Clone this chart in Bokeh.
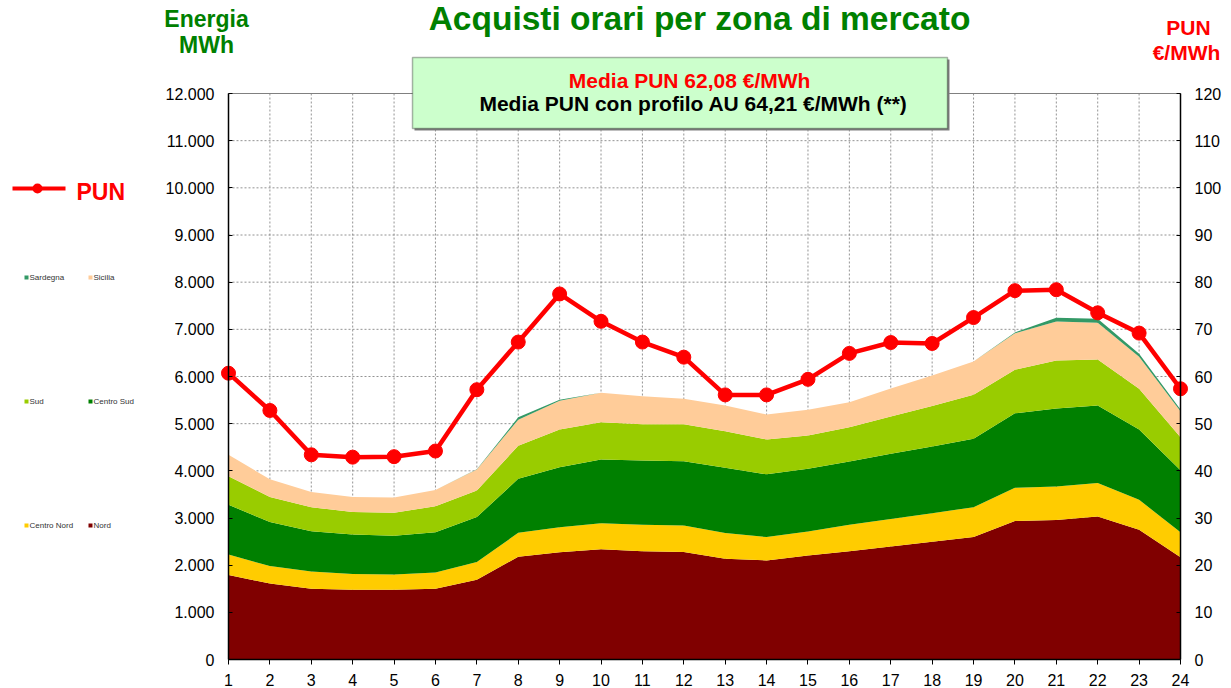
from bokeh.plotting import figure
from bokeh.models import ColumnDataSource, Range1d, LinearAxis, FixedTicker, Label, BoxAnnotation
from bokeh.embed import file_html
from bokeh.resources import INLINE

# ---------------- data ----------------
hours = list(range(1, 25))
nord = [1790, 1610, 1500, 1480, 1480, 1500, 1690, 2180, 2275, 2335, 2295, 2280,
        2135, 2100, 2205, 2295, 2395, 2495, 2595, 2935, 2960, 3030, 2750, 2170]
centro_nord = [435, 370, 365, 335, 320, 345, 375, 505, 530, 555, 560, 560,
               545, 495, 510, 560, 585, 605, 635, 705, 710, 710, 635, 530]
centro_sud = [1055, 935, 855, 835, 825, 855, 955, 1145, 1270, 1350, 1365, 1365,
              1385, 1330, 1330, 1345, 1380, 1415, 1450, 1580, 1650, 1645, 1490, 1310]
sud = [605, 530, 510, 475, 485, 550, 565, 700, 800, 790, 765, 780,
       775, 740, 705, 725, 790, 860, 935, 925, 1020, 975, 865, 700]
sicilia = [455, 375, 320, 320, 325, 345, 445, 555, 610, 625, 595, 545,
           545, 530, 545, 530, 595, 645, 705, 770, 825, 780, 680, 555]
sardegna = [0, 0, 0, 0, 0, 0, 5, 50, 20, 0, 0, 0,
            0, 0, 0, 0, 0, 0, 0, 20, 80, 85, 60, 35]
pun = [60.7, 52.8, 43.4, 42.9, 43.0, 44.2, 57.2, 67.3, 77.5, 71.7, 67.3, 64.1,
       56.1, 56.1, 59.4, 64.9, 67.2, 67.0, 72.5, 78.2, 78.4, 73.5, 69.2, 57.4]

zones = ["Nord", "Centro Nord", "Centro Sud", "Sud", "Sicilia", "Sardegna"]
zone_colors = ["#800000", "#FFCC00", "#008000", "#99CC00", "#FFCC99", "#339966"]

energy_ticks = [0, 1000, 2000, 3000, 4000, 5000, 6000, 7000, 8000, 9000, 10000, 11000, 12000]
energy_tick_labels = ["0", "1.000", "2.000", "3.000", "4.000", "5.000", "6.000",
                      "7.000", "8.000", "9.000", "10.000", "11.000", "12.000"]
pun_ticks = [0, 10, 20, 30, 40, 50, 60, 70, 80, 90, 100, 110, 120]

title_text = "Acquisti orari per zona di mercato"
left_title = ["Energia", "MWh"]
right_title = ["PUN", "€/MWh"]
box_line1 = "Media PUN 62,08  €/MWh"
box_line2 = "Media PUN con profilo AU 64,21 €/MWh (**)"

# ---------------- geometry (pixels) ----------------
W, H = 1231, 688
FL, FR, FT, FB = 228, 1180, 93, 659   # plot-area edges in canvas pixels

x0v, x1v = hours[0], hours[-1]
e0v, e1v = energy_ticks[0], energy_ticks[-1]
p0v, p1v = pun_ticks[0], pun_ticks[-1]
xpp = (x1v - x0v) / (FR - FL)          # hours per pixel
epp = (e1v - e0v) / (FB - FT)          # MWh per pixel
ppp = (p1v - p0v) / (FB - FT)          # EUR per pixel

src = ColumnDataSource(dict(hour=hours, Nord=nord, **{"Centro Nord": centro_nord},
                            **{"Centro Sud": centro_sud}, Sud=sud, Sicilia=sicilia,
                            Sardegna=sardegna, pun=pun))

# frame covers the whole canvas; axes are pinned with fixed_location
p = figure(width=W, height=H,
           x_range=Range1d(x0v - FL * xpp, x1v + (W - FR) * xpp),
           y_range=Range1d(e0v - (H - FB) * epp, e1v + FT * epp),
           output_backend="svg", toolbar_location=None,
           x_axis_location=None, y_axis_location=None,
           min_border=0, min_border_left=0, min_border_right=0,
           min_border_top=0, min_border_bottom=0)
p.extra_y_ranges = {"pun": Range1d(p0v - (H - FB) * ppp, p1v + FT * ppp)}
p.background_fill_color = "white"
p.border_fill_color = "white"
p.outline_line_color = None
p.grid.visible = False

FONT = "Liberation Sans"

# ---------------- grid (dashed) ----------------
GRID = dict(line_color="#808080", line_dash="2 2", line_width=1, line_alpha=0.85, level="underlay")
p.segment(x0=hours, y0=[e0v] * len(hours), x1=hours, y1=[e1v] * len(hours), **GRID)
p.segment(x0=[x0v] * len(energy_ticks), y0=energy_ticks,
          x1=[x1v] * len(energy_ticks), y1=energy_ticks, **GRID)
# plot-area top border
p.segment(x0=[x0v], y0=[e1v], x1=[x1v], y1=[e1v], line_color="#808080", line_width=1,
          level="underlay")

# ---------------- stacked areas ----------------
p.varea_stack(stackers=zones, x="hour", color=zone_colors, source=src)

# ---------------- PUN line ----------------
p.line("hour", "pun", source=src, y_range_name="pun", line_color="#FF0000", line_width=4.5)
p.scatter("hour", "pun", source=src, y_range_name="pun", size=14,
          fill_color="#FF0000", line_color="#FF0000")

# ---------------- axes ----------------
xax = LinearAxis(ticker=FixedTicker(ticks=hours), fixed_location=e0v, bounds=(x0v, x1v))
lax = LinearAxis(ticker=FixedTicker(ticks=energy_ticks), fixed_location=x0v, bounds=(e0v, e1v))
lax.major_label_overrides = {t: l for t, l in zip(energy_ticks, energy_tick_labels)}
rax = LinearAxis(y_range_name="pun", ticker=FixedTicker(ticks=pun_ticks),
                 fixed_location=x1v, bounds=(p0v, p1v))
p.add_layout(xax, "below")
p.add_layout(lax, "left")
p.add_layout(rax, "right")

for ax in (xax, lax, rax):
    ax.axis_line_color = "black"
    ax.axis_line_width = 1.5
    ax.major_tick_line_color = "black"
    ax.minor_tick_line_color = None
    ax.major_label_text_font = FONT
    ax.major_label_text_font_size = "16px"
    ax.major_label_text_color = "black"
xax.major_tick_out = 5
xax.major_tick_in = 0
xax.major_label_standoff = 9
for ax in (lax, rax):
    ax.major_tick_out = 0
    ax.major_tick_in = 4
    ax.major_label_standoff = 14


# ---------------- annotations in canvas pixels (y from top) ----------------
def label(x, baseline, text, size, color, bold=True, align="center"):
    # Label's alphabetic anchor lands ~0.38 em below the given y: compensate
    fix = 0.38 * size
    p.add_layout(Label(x=x, y=baseline - fix, x_units="canvas", y_units="canvas",
                       text=text, text_align=align, text_baseline="alphabetic",
                       text_font=FONT, text_font_size=f"{size}px", text_color=color,
                       text_font_style="bold" if bold else "normal"))


def rect(l, t, r, b, color, radius=0, line=None, lw=1):
    p.add_layout(BoxAnnotation(left=l, right=r, top=t, bottom=b,
                               left_units="canvas", right_units="canvas",
                               top_units="canvas", bottom_units="canvas",
                               fill_color=color, fill_alpha=1, line_color=line,
                               line_width=lw, border_radius=radius))


# title
label(699, 31, title_text, 33.5, "#008000")
# axis titles
label(206, 27, left_title[0], 23, "#008000")
label(206, 53, left_title[1], 23, "#008000")
label(1188, 35, right_title[0], 21, "#FF0000")
label(1186, 60, right_title[1], 21, "#FF0000")

# info box
rect(414, 59, 949, 130, "#808080")                      # soft shadow
rect(412, 57, 947, 128, "#CCFFCC", line="black", lw=1.5)
label(692, 88, box_line1, 21, "#FF0000")
label(693, 111, box_line2, 21, "black")

# PUN legend
rect(12, 186, 65, 190, "#FF0000")
rect(32, 183, 42, 193, "#FF0000", radius=5)
label(76, 200, "PUN", 23, "#FF0000", align="left")

# zone legend
legend_pos = {"Sardegna": (24, 275), "Sicilia": (88, 275), "Sud": (24, 399),
              "Centro Sud": (88, 399), "Centro Nord": (24, 523), "Nord": (88, 523)}
for name, col in zip(zones, zone_colors):
    lx, ly = legend_pos[name]
    rect(lx, ly, lx + 4, ly + 4, col)
    label(lx + 5, ly + 5, name, 8, "#333333", bold=False, align="left")

open("out.html", "w").write(file_html(p, INLINE))
